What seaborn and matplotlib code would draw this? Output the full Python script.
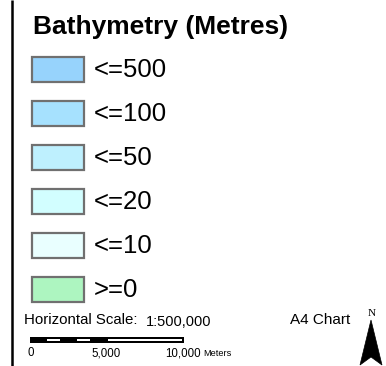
import matplotlib
matplotlib.use("Agg")
import matplotlib.pyplot as plt
import matplotlib.transforms as mtransforms
from matplotlib.patches import Rectangle, Polygon
import seaborn as sns
import pandas as pd

# ---- content ----
title = "Bathymetry (Metres)"
classes = ["<=500", "<=100", "<=50", "<=20", "<=10", ">=0"]
class_colors = ["#97D3FC", "#A6E1FE", "#BEF0FE", "#D2FEFF", "#E9FFFF", "#ADF5C0"]
scale_label = "Horizontal Scale:"
scale_ratio = "1:500,000"
chart_label = "A4 Chart"
north_label = "N"
scale_divisions = [0, 1000, 2000, 3000, 4000, 5000, 10000]
scale_fills = ["black", "white", "black", "white", "black", "white"]
scale_ticks = [0, 5000, 10000]
scale_tick_labels = ["0", "5,000", "10,000"]
scale_unit = "Meters"

W, H = 386, 366
sns.set_theme(style="white")
plt.rcParams["font.family"] = ["Liberation Sans", "DejaVu Sans"]

fig = plt.figure(figsize=(W / 100, H / 100), dpi=100)
fig.patch.set_facecolor("white")
ax = fig.add_axes([0, 0, 1, 1])
ax.set_xlim(0, W)
ax.set_ylim(H, 0)
ax.axis("off")


def fig_rect(x0, y0, x1, y1):
    return [x0 / W, 1 - y1 / H, (x1 - x0) / W, (y1 - y0) / H]


# left frame line
ax.plot([11.8, 11.8], [0, H], color="black", lw=1.8, solid_capstyle="butt")

# title
ax.text(33, 34, title, fontsize=19, fontweight="bold", va="baseline", ha="left", color="black")

# swatches
sax = fig.add_axes(fig_rect(32, 47.5, 84, 311.5))
df = pd.DataFrame({"cls": classes, "v": [1] * len(classes)})
sns.barplot(data=df, y="cls", x="v", hue="cls", palette=class_colors, orient="h",
            width=25 / 44, ax=sax, legend=False, edgecolor="#707070",
            linewidth=1.6, saturation=1)
sax.set_xlim(0, 1)
sax.set_ylim(len(classes) - 0.5, -0.5)
sax.axis("off")
for p in sax.patches:
    p.set_clip_on(False)

blend = mtransforms.blended_transform_factory(ax.transData, sax.transData)
for i, c in enumerate(classes):
    ax.text(94, i + 0.165, c, fontsize=18.5, va="baseline", ha="left",
            color="black", transform=blend)

# bottom texts
ax.text(24, 324, scale_label, fontsize=10.8, va="baseline", ha="left", color="black")
ax.text(146, 326, scale_ratio, fontsize=10.5, va="baseline", ha="left", color="black")
ax.text(290, 324, chart_label, fontsize=11, va="baseline", ha="left", color="black")
ax.text(372, 316, north_label, fontsize=8, va="baseline", ha="center", color="black",
        family=["Liberation Serif", "DejaVu Serif"])

# north arrow
ax.add_patch(Polygon([(371, 320), (382, 365), (371, 357), (360, 365)], closed=True,
                     facecolor="black", edgecolor="black", lw=0.5))

# scale bar
bax = fig.add_axes(fig_rect(30.5, 300, 182.5, 366))
bax.set_xlim(0, 10000)
bax.set_ylim(366, 300)
bax.axis("off")
sb = mtransforms.blended_transform_factory(bax.transData, ax.transData)
for a, b, f in zip(scale_divisions[:-1], scale_divisions[1:], scale_fills):
    bax.add_patch(Rectangle((a, 338), b - a, 4, facecolor=f, edgecolor="black",
                            lw=1.44, transform=sb, clip_on=False))
for t, lab in zip(scale_ticks, scale_tick_labels):
    bax.text(t, 356.5, lab, fontsize=8.3, ha="center", va="baseline", color="black",
             transform=sb)
ax.text(203, 356.5, scale_unit, fontsize=6.6, ha="left", va="baseline", color="black")

fig.savefig("out.png", dpi=100, facecolor="white")
